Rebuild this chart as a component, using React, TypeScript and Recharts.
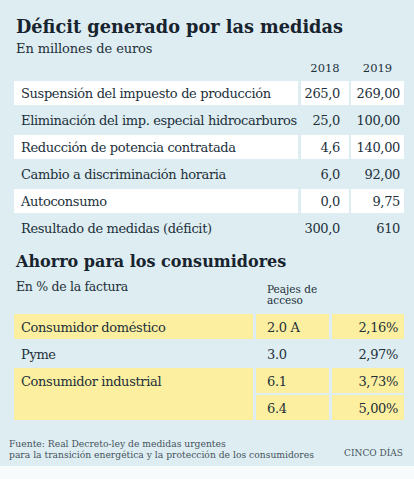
import { BarChart, Bar, XAxis, YAxis } from "recharts";

// Déficit generado por las medidas (millones de euros)
const deficitLabels = [
  "Suspensión del impuesto de producción",
  "Eliminación del imp. especial hidrocarburos",
  "Reducción de potencia contratada",
  "Cambio a discriminación horaria",
  "Autoconsumo",
  "Resultado de medidas (déficit)",
];
const deficit2018 = [265.0, 25.0, 4.6, 6.0, 0.0, 300.0];
const deficit2019 = [269.0, 100.0, 140.0, 92.0, 9.75, 610];
const years = ["2018", "2019"];

// Ahorro para los consumidores (% de la factura)
const ahorroLabels = ["Consumidor doméstico", "Pyme", "Consumidor industrial", ""];
const peajes = ["2.0 A", "3.0", "6.1", "6.4"];
const ahorroPct = [2.16, 2.97, 3.73, 5.0];

const BG = "#deedf1";
const INK = "#22303b";
const TITLE = "#17232e";
const MUTED = "#45535e";
const YELLOW = "#fcef9f";
const SERIF = '"DejaVu Serif", "Liberation Serif", serif';
const BODY = 13;
const TRACK = -0.35;
const W = 414;
const H = 479;

const fmt = (v: number, d: number) => v.toFixed(d).replace(".", ",");

const deficitRows = deficitLabels.map((label, i) => ({
  id: i,
  label,
  v2018: deficit2018[i],
  v2019: deficit2019[i],
}));

const ahorroRows = ahorroLabels.map((label, i) => ({
  id: i,
  label,
  peaje: peajes[i],
  pct: ahorroPct[i],
}));

const YELLOW_ROWS = [0, 2, 3];

const txt = { fontFamily: SERIF, fontSize: BODY, fill: INK, letterSpacing: TRACK };

function DeficitRow(props: any) {
  const { x, y, width, height, payload } = props;
  const i = payload.id;
  const last = i === deficitRows.length - 1;
  const white = i % 2 === 0 && !last;
  const c1 = x + 284;
  const c2 = x + 287;
  const c3 = x + 337;
  const base = y + height / 2 + 5;
  return (
    <g>
      {white && (
        <>
          <rect x={x} y={y} width={c1 - x} height={height} fill="#fff" />
          <rect x={c2} y={y} width={48} height={height} fill="#fff" />
          <rect x={c3} y={y} width={x + width - c3} height={height} fill="#fff" />
        </>
      )}
      <text x={x + 7} y={base} {...txt}>
        {payload.label}
      </text>
      <text x={c2 + 39} y={base} textAnchor="end" {...txt}>
        {fmt(payload.v2018, 1)}
      </text>
      <text x={x + width - 4} y={base} textAnchor="end" {...txt}>
        {fmt(payload.v2019, last ? 0 : 2)}
      </text>
    </g>
  );
}

function AhorroRow(props: any) {
  const { x, y, width, height, payload } = props;
  const i = payload.id;
  const yellow = YELLOW_ROWS.includes(i);
  const cont = payload.label === "";
  const c2 = x + 242;
  const c3 = x + 318;
  const base = y + height / 2 + 5;
  return (
    <g>
      {yellow && (
        <>
          <rect
            x={x}
            y={cont ? y - 4 : y}
            width={239}
            height={cont ? height + 4 : height}
            fill={YELLOW}
          />
          <rect x={c2} y={y} width={73} height={height} fill={YELLOW} />
          <rect x={c3} y={y} width={x + width - c3} height={height} fill={YELLOW} />
        </>
      )}
      <text x={x + 7} y={base} {...txt}>
        {payload.label}
      </text>
      <text x={c2 + 11} y={base} {...txt}>
        {payload.peaje}
      </text>
      <text x={x + width - 6} y={base} textAnchor="end" {...txt}>
        {fmt(payload.pct, 2)}%
      </text>
    </g>
  );
}

function Label({ top, left, size, children, bold, color, right, lh, track }: any) {
  return (
    <div
      style={{
        position: "absolute",
        top,
        left,
        right,
        fontSize: size,
        lineHeight: lh ? `${lh}px` : 1,
        fontWeight: bold ? 700 : 400,
        color: color ?? INK,
        whiteSpace: "nowrap",
        fontFamily: SERIF,
        letterSpacing: track ?? 0,
      }}
    >
      {children}
    </div>
  );
}

export default function App() {
  return (
    <div
      style={{
        position: "absolute",
        top: 0,
        left: 0,
        width: W,
        height: H,
        background: "#f8fbfb",
        overflow: "hidden",
      }}
    >
      <div style={{ position: "absolute", top: 0, left: 0, width: W, height: 466, background: BG }} />

      <Label top={18} left={16} size={17.7} bold color={TITLE}>
        Déficit generado por las medidas
      </Label>
      <Label top={42} left={16} size={13} track={-0.1}>
        En millones de euros
      </Label>
      <Label top={63} left={301} size={11.5}>
        <div style={{ width: 48, textAlign: "center" }}>{years[0]}</div>
      </Label>
      <Label top={63} left={351} size={11.5}>
        <div style={{ width: 53, textAlign: "center" }}>{years[1]}</div>
      </Label>

      <div style={{ position: "absolute", top: 79, left: 0 }}>
        <BarChart
          width={W}
          height={162}
          layout="vertical"
          data={deficitRows}
          margin={{ top: 0, right: 10, bottom: 0, left: 14 }}
        >
          <XAxis type="number" domain={[0, 1]} hide />
          <YAxis type="category" dataKey="id" hide />
          <Bar dataKey={() => 1} barSize={24} shape={DeficitRow} isAnimationActive={false} />
        </BarChart>
      </div>

      <Label top={254} left={16} size={16} bold color={TITLE}>
        Ahorro para los consumidores
      </Label>
      <Label top={281} left={16} size={12.5} track={-0.3}>
        En % de la factura
      </Label>
      <Label top={284} left={267} size={10.5} lh={11}>
        Peajes de
        <br />
        acceso
      </Label>

      <div style={{ position: "absolute", top: 313, left: 0 }}>
        <BarChart
          width={W}
          height={108}
          layout="vertical"
          data={ahorroRows}
          margin={{ top: 0, right: 10, bottom: 0, left: 14 }}
        >
          <XAxis type="number" domain={[0, 1]} hide />
          <YAxis type="category" dataKey="id" hide />
          <Bar dataKey={() => 1} barSize={25} shape={AhorroRow} isAnimationActive={false} />
        </BarChart>
      </div>

      <Label top={439} left={9} size={9.2} lh={10.5} color={MUTED}>
        Fuente: Real Decreto-ley de medidas urgentes
        <br />
        para la transición energética y la protección de los consumidores
      </Label>
      <Label top={449} right={11} size={9} color={MUTED}>
        CINCO DÍAS
      </Label>
    </div>
  );
}
